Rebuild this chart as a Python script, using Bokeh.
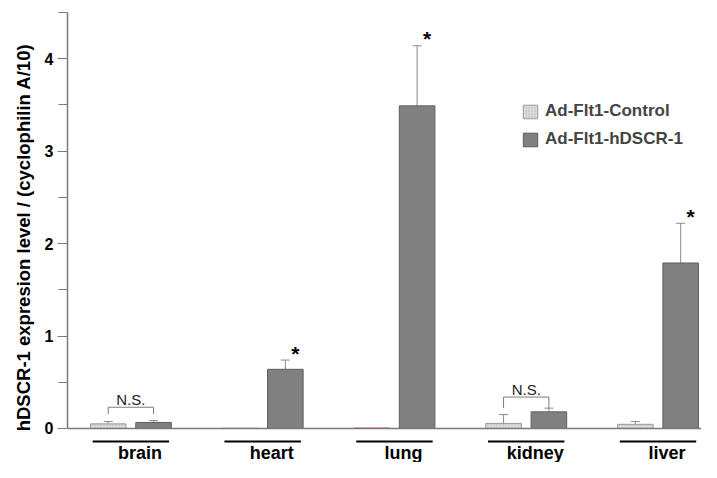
import numpy as np
from bokeh.plotting import figure
from bokeh.models import (ColumnDataSource, Range1d, Span, Whisker, TeeHead,
                          Legend, LegendItem, FixedTicker)
from bokeh.core.properties import value
from bokeh.embed import file_html
from bokeh.resources import INLINE

# ---- data ----
categories = ["brain", "heart", "lung", "kidney", "liver"]
series = ["Ad-Flt1-Control", "Ad-Flt1-hDSCR-1"]
control = [0.05, 0.005, 0.005, 0.055, 0.045]
control_err = [0.025, 0.0, 0.0, 0.095, 0.03]
hdscr = [0.065, 0.64, 3.49, 0.18, 1.79]
hdscr_err = [0.02, 0.10, 0.65, 0.04, 0.43]
significant = [False, True, True, False, True]
ns_groups = ["brain", "kidney"]
ns_bracket_top = [0.23, 0.34]
ns_leg = [0.075, 0.12]
y_ticks = [0, 1, 2, 3, 4]
y_minor = [0.5, 1.5, 2.5, 3.5, 4.5]
y_label = "hDSCR-1 expresion level / (cyclophilin A/10)"

FONT = "Liberation Sans"
OFF = 0.172
BW = 0.27

idx = np.arange(len(categories))
xc = idx - OFF
xh = idx + OFF
ctrl_line = ["#9a9a9a", "#c8c8c8", "#e05050", "#9a9a9a", "#9a9a9a"]

p = figure(width=701, height=462, output_backend="svg", toolbar_location=None,
           x_range=Range1d(-0.481, 4.33), y_range=Range1d(-0.368, 4.5),
           min_border_left=67, min_border_right=0, min_border_top=12,
           min_border_bottom=0, x_axis_location=None)
p.outline_line_color = None
p.grid.visible = False
p.background_fill_color = "white"

ax = p.yaxis[0]
ax.bounds = (0, 4.5)
ax.ticker = FixedTicker(ticks=y_ticks, minor_ticks=y_minor)
ax.axis_line_color = "#7a7a7a"
ax.axis_line_width = 1.5
ax.major_tick_line_color = "#7a7a7a"
ax.minor_tick_line_color = "#7a7a7a"
ax.major_tick_out = 10
ax.major_tick_in = 0
ax.minor_tick_out = 9
ax.minor_tick_in = 0
ax.major_label_text_font = FONT
ax.major_label_text_font_style = "bold"
ax.major_label_text_font_size = "16px"
ax.major_label_text_color = "black"
ax.major_label_standoff = 4
ax.axis_label = y_label
ax.axis_label_text_font = FONT
ax.axis_label_text_font_style = "bold"
ax.axis_label_text_font_size = "18.5px"
ax.axis_label_text_color = "black"
ax.axis_label_standoff = 8

p.add_layout(Span(location=0, dimension="width", line_color="#7a7a7a", line_width=1.5))

src_c = ColumnDataSource(dict(x=xc, top=control, lc=ctrl_line))
src_h = ColumnDataSource(dict(x=xh, top=hdscr))
rc = p.vbar(x="x", top="top", width=BW, bottom=0, source=src_c,
            fill_color="#dcdcdc", line_color="lc", line_width=1,
            hatch_pattern=".", hatch_color="#b4b4b4", hatch_scale=3, hatch_weight=1)
rh = p.vbar(x="x", top="top", width=BW, bottom=0, source=src_h,
            fill_color="#808080", line_color="#5e5e5e", line_width=1)

# error bars (upper only)
ex, el, eu = [], [], []
for i in range(len(categories)):
    if control_err[i] > 0:
        ex.append(xc[i]); el.append(control[i]); eu.append(control[i] + control_err[i])
    if hdscr_err[i] > 0:
        ex.append(xh[i]); el.append(hdscr[i]); eu.append(hdscr[i] + hdscr_err[i])
src_e = ColumnDataSource(dict(base=ex, lower=el, upper=eu))
p.add_layout(Whisker(source=src_e, base="base", lower="lower", upper="upper",
                     line_color="#8a8a8a", line_width=1, lower_head=None,
                     upper_head=TeeHead(size=9, line_color="#8a8a8a", line_width=1)))

# significance stars
sx = [xh[i] for i in range(len(categories)) if significant[i]]
sy = [hdscr[i] + hdscr_err[i] for i in range(len(categories)) if significant[i]]
p.text(x=sx, y=sy, text=["*"] * len(sx), x_offset=10, y_offset=-7,
       text_font=value(FONT), text_font_style="bold", text_font_size="21px",
       text_align="center", text_baseline="alphabetic", text_color="black")

# N.S. brackets
bx, by = [], []
tx, ty = [], []
for g, top, leg in zip(ns_groups, ns_bracket_top, ns_leg):
    i = categories.index(g)
    bx.append([xc[i], xc[i], xh[i], xh[i]])
    by.append([top - leg, top, top, top - leg])
    tx.append(idx[i]); ty.append(top)
p.multi_line(xs=bx, ys=by, line_color="#7a7a7a", line_width=1)
p.text(x=tx, y=ty, text=["N.S."] * len(tx), y_offset=-8,
       text_font=value(FONT), text_font_size="15px", text_align="center",
       text_baseline="alphabetic", text_color="#222222")

# category underlines and labels
p.segment(x0=idx - 0.29, x1=idx + 0.29, y0=[-0.141] * len(idx), y1=[-0.141] * len(idx),
          line_color="black", line_width=2)
p.text(x=idx, y=[0] * len(idx), text=categories, x_offset=9, y_offset=25,
       text_font=value(FONT), text_font_style="bold", text_font_size="18px",
       text_align="center", text_baseline="middle", text_color="black")

legend = Legend(items=[LegendItem(label=series[0], renderers=[rc]),
                       LegendItem(label=series[1], renderers=[rh])],
                location=(454, 313), padding=0, margin=0, spacing=8,
                glyph_width=18, glyph_height=17, label_height=17, label_standoff=6,
                label_text_font=FONT, label_text_font_style="bold",
                label_text_font_size="17px", border_line_color=None,
                background_fill_alpha=0)
p.add_layout(legend)

open("out.html", "w").write(file_html(p, INLINE))
